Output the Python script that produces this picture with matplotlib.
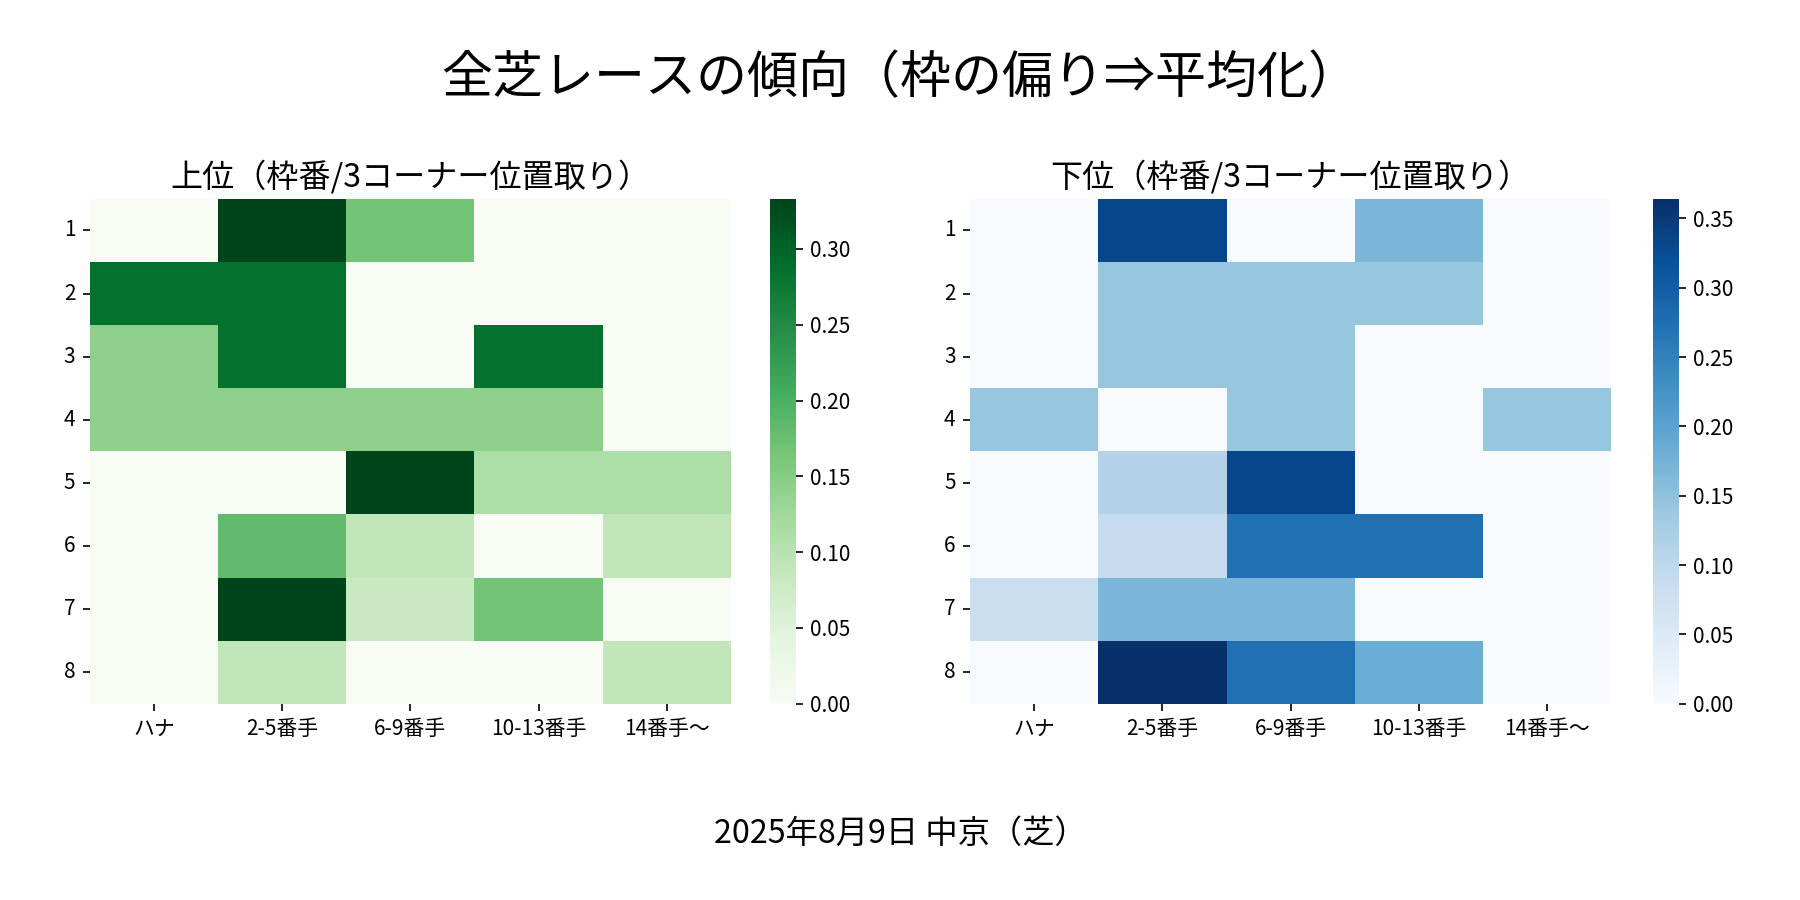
import matplotlib
matplotlib.use("Agg")
import matplotlib.pyplot as plt
import numpy as np
import pandas as pd
import seaborn as sns

plt.rcParams['font.family'] = ['Noto Sans CJK JP', 'DejaVu Sans']

# 枠番 x 3コーナー位置取り の割合
waku = ["1", "2", "3", "4", "5", "6", "7", "8"]
positions = ["ハナ", "2-5番手", "6-9番手", "10-13番手", "14番手〜"]

upper = [
    [0.000, 0.333, 0.167, 0.000, 0.000],
    [0.286, 0.286, 0.000, 0.000, 0.000],
    [0.143, 0.286, 0.000, 0.286, 0.000],
    [0.143, 0.143, 0.143, 0.143, 0.000],
    [0.000, 0.000, 0.333, 0.111, 0.111],
    [0.000, 0.182, 0.091, 0.000, 0.091],
    [0.000, 0.333, 0.083, 0.167, 0.000],
    [0.000, 0.091, 0.000, 0.000, 0.091],
]
lower = [
    [0.000, 0.333, 0.000, 0.167, 0.000],
    [0.000, 0.143, 0.143, 0.143, 0.000],
    [0.000, 0.143, 0.143, 0.000, 0.000],
    [0.143, 0.000, 0.143, 0.000, 0.143],
    [0.000, 0.111, 0.333, 0.000, 0.000],
    [0.000, 0.091, 0.273, 0.273, 0.000],
    [0.083, 0.167, 0.167, 0.000, 0.000],
    [0.000, 0.364, 0.273, 0.182, 0.000],
]

df_upper = pd.DataFrame(upper, index=waku, columns=positions)
df_lower = pd.DataFrame(lower, index=waku, columns=positions)

fig = plt.figure(figsize=(12, 6), dpi=150)

ax1 = fig.add_axes([0.050, 0.218, 0.356, 0.561])
cax1 = fig.add_axes([0.428, 0.218, 0.014, 0.561])
ax2 = fig.add_axes([0.539, 0.218, 0.356, 0.561])
cax2 = fig.add_axes([0.9186, 0.218, 0.014, 0.561])

sns.heatmap(df_upper, cmap="Greens", ax=ax1, cbar_ax=cax1)
sns.heatmap(df_lower, cmap="Blues", ax=ax2, cbar_ax=cax2)

for ax, title in [(ax1, "上位（枠番/3コーナー位置取り）"), (ax2, "下位（枠番/3コーナー位置取り）")]:
    ax.set_title(title, fontsize=15.4, pad=6)
    ax.tick_params(axis="both", labelsize=10)
    plt.setp(ax.get_yticklabels(), rotation=0)
    plt.setp(ax.get_xticklabels(), rotation=0)
    ax.set_xlabel("")
    ax.set_ylabel("")

for cax in (cax1, cax2):
    cax.tick_params(labelsize=10)

fig.suptitle("全芝レースの傾向（枠の偏り⇒平均化）", fontsize=24.5, y=0.943)
fig.text(0.5, 0.074, "2025年8月9日 中京（芝）", ha="center", va="center", fontsize=15.5)

fig.savefig("out.png", dpi=150)
